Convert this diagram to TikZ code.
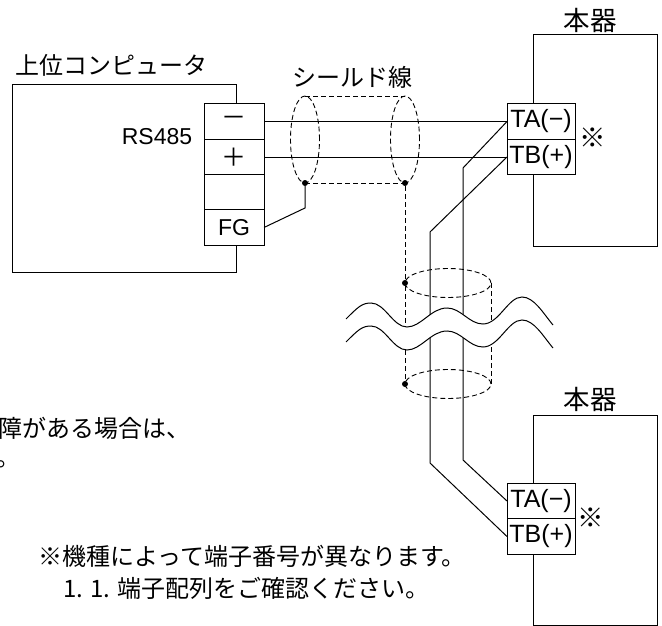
\documentclass[tikz,border=0pt]{standalone}
\usepackage{fontspec}
\setmainfont{Liberation Sans}
\newfontfamily\cjk{Noto Sans CJK JP}
\usetikzlibrary{shapes.geometric}
\tikzset{
	BigText/.style={font=\fontsize{23}{23}\selectfont, inner sep=0pt},
	JpText/.style={font=\fontsize{24}{24}\selectfont\cjk, inner sep=0pt},
	JpWide/.style={font=\fontsize{26.5}{26.5}\selectfont\cjk, inner sep=0pt},
	DevBox/.style={draw, line width=1pt, inner sep=0pt, outer sep=0pt},
	TermCell/.style={draw, fill=white, line width=1pt, inner sep=0pt, outer sep=0pt, font=\fontsize{25}{25}\selectfont},
	ShieldRing/.style={ellipse, draw, Shield, inner sep=0pt, outer sep=0pt},
	Shield/.style={line width=0.9pt, dash pattern=on 5pt off 3pt},
	Wire/.style={line width=1pt},
	DotMark/.style={circle, fill=black, inner sep=0pt, minimum size=6pt}
}

\begin{document}
\begin{tikzpicture}[x=1pt, y=-1pt]
		\useasboundingbox (0,0) rectangle (662,626);

		% Device boxes
		\node[DevBox, minimum width=224pt, minimum height=187pt] (host) at (124,178.5) {};
		\node[DevBox, minimum width=124pt, minimum height=211pt] (unitA) at (595,140.5) {};
		\node[DevBox, minimum width=124pt, minimum height=210pt] (unitB) at (595,520) {};

		% Terminal blocks
		\foreach \name/\y/\txt in {hostM/121.5/{\cjk －}, hostP/157/{\cjk ＋}, hostN/192/{}, hostG/227.5/{\fontsize{23}{23}\selectfont FG}}
			\node[TermCell, minimum width=60pt, minimum height=35.3pt] (\name) at (234,\y) {\txt};
		\foreach \name/\y/\txt in {taA/121.5/TA(−), tbA/157/TB(+), taB/501/TA(−), tbB/536.5/TB(+)}
			\node[TermCell, minimum width=68pt, minimum height=35.3pt] (\name) at (541,\y) {\txt};

		% Shield, upper part
		\node[ShieldRing, minimum width=29pt, minimum height=87pt] (ringL) at (305,139.5) {};
		\node[ShieldRing, minimum width=29pt, minimum height=87pt] (ringR) at (405,139.5) {};
		\draw[Shield] (ringL.north) -- (ringR.north);
		\draw[Shield] (ringL.south) -- (ringR.south);
		\node[DotMark] (dotL) at (ringL.south) {};
		\node[DotMark] (dotR) at (ringR.south) {};

		% Shield, lower part
		\node[ShieldRing, minimum width=86pt, minimum height=29pt] (ringT) at (448,283) {};
		\node[ShieldRing, minimum width=86pt, minimum height=29pt] (ringU) at (448,384) {};
		\node[DotMark] (dotT) at (ringT.west) {};
		\node[DotMark] (dotU) at (ringU.west) {};
		\draw[Shield] (dotR) -- (dotT) -- (dotU);
		\draw[Shield] (ringT.east) -- (ringU.east);

		% Signal wires
		\coordinate (bendA) at (463,168);
		\coordinate (bendB) at (463,460);
		\coordinate (bendC) at (430,232);
		\coordinate (bendD) at (430,463);
		\coordinate (bendG) at (305,208);
		\draw[Wire] (hostM.east) -- (taA.west);
		\draw[Wire] (hostP.east) -- (tbA.west);
		\draw[Wire] (taA.west) -- (bendA) -- (bendB) -- (taB.west);
		\draw[Wire] (tbA.west) -- (bendC) -- (bendD) -- (tbB.west);
		\draw[Wire] (dotL) -- (bendG) -- (hostG.east);

		% Break in the cable
		\fill[white] (346,319) .. controls (358,307) and (362,303) .. (371,303)
			.. controls (385,303) and (393,327) .. (407,327)
			.. controls (421,327) and (431,308) .. (447,308)
			.. controls (461,308) and (469,324) .. (483,324)
			.. controls (499,324) and (508,297) .. (522,297)
			.. controls (534,297) and (543,313) .. (553,325)
			-- (553,348) .. controls (543,336) and (534,320) .. (522,320)
			.. controls (508,320) and (499,347) .. (483,347)
			.. controls (469,347) and (461,331) .. (447,331)
			.. controls (431,331) and (421,350) .. (407,350)
			.. controls (393,350) and (385,326) .. (371,326)
			.. controls (362,326) and (358,330) .. (346,342) -- cycle;
		\foreach \dy in {0,23}
			\draw[Wire, yshift=-\dy pt] (346,319) .. controls (358,307) and (362,303) .. (371,303)
				.. controls (385,303) and (393,327) .. (407,327)
				.. controls (421,327) and (431,308) .. (447,308)
				.. controls (461,308) and (469,324) .. (483,324)
				.. controls (499,324) and (508,297) .. (522,297)
				.. controls (534,297) and (543,313) .. (553,325);

		% Labels
		\node[JpText, anchor=west] (hostLabel) at (15,65) {上位コンピュータ};
		\node[JpText] (cableLabel) at (352,77) {シールド線};
		\node[JpWide] (unitLabelA) at (590,20) {本器};
		\node[JpWide] (unitLabelB) at (590,399) {本器};
		\node[BigText] (portLabel) at (157,137) {RS485};
		\node[JpWide] (markA) at (593,138) {※};
		\node[JpWide] (markB) at (591,518) {※};

		\node[JpText, anchor=west] (noteA) at (-2,428) {障がある場合は、};
		\node[JpText, anchor=west] (noteB) at (-4,464) {。};
		\node[JpText, anchor=west] (noteC) at (38,556) {※機種によって端子番号が異なります。};
		\node[JpText, anchor=west] (noteD) at (63,588) {1. 1. 端子配列をご確認ください。};
	\end{tikzpicture}
\end{document}
